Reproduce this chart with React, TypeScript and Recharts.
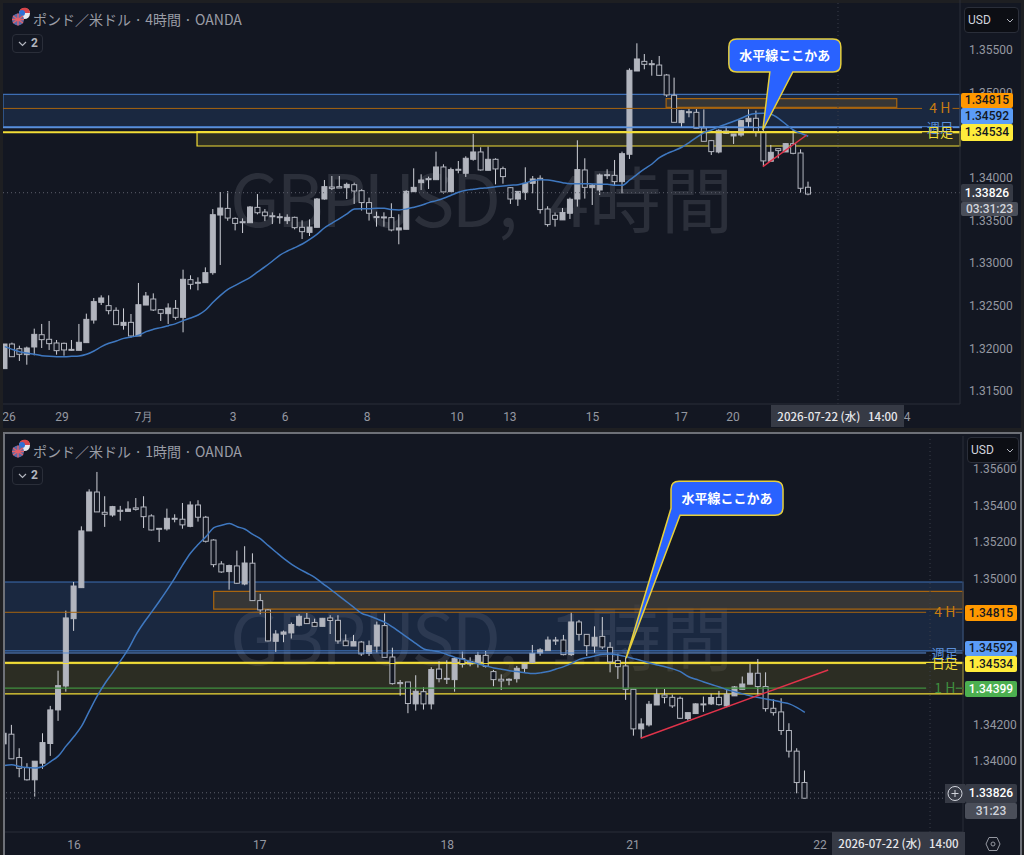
import { Bar, ComposedChart, Line, ReferenceArea, ReferenceDot, ReferenceLine, XAxis, YAxis } from "recharts"

// 4 hour candles, left to right
const h4Open = [1.31762,1.32051,1.31996,1.31926,1.32016,1.32160,1.32106,1.32063,1.32059,1.31988,1.31977,1.32067,1.32332,1.32540,1.32501,1.32446,1.32270,1.32305,1.32145,1.32508,1.32579,1.32454,1.32407,1.32469,1.32364,1.32806,1.32775,1.32771,1.32888,1.33564,1.33642,1.33525,1.33486,1.33474,1.33654,1.33599,1.33556,1.33545,1.33498,1.33537,1.33420,1.33361,1.33420,1.33752,1.33893,1.33897,1.33885,1.33920,1.33850,1.33710,1.33546,1.33542,1.33534,1.33389,1.33397,1.33838,1.33944,1.33991,1.33979,1.34128,1.33838,1.34101,1.34054,1.34218,1.34304,1.34089,1.34218,1.34108,1.33885,1.33752,1.33827,1.33936,1.33995,1.33635,1.33561,1.33507,1.33585,1.33752,1.34093,1.33885,1.33858,1.34038,1.34030,1.33956,1.34277,1.35254,1.35367,1.35340,1.35324,1.35207,1.34969,1.34648,1.34777,1.34769,1.34586,1.34437,1.34304,1.34523,1.34492,1.34503,1.34660,1.34699,1.34543,1.34195,1.34343,1.34304,1.34402,1.34292,1.33890]
const h4High = [1.32051,1.32067,1.32031,1.32020,1.32231,1.32286,1.32321,1.32098,1.32067,1.32098,1.32286,1.32407,1.32591,1.32622,1.32622,1.32481,1.32469,1.32403,1.32767,1.32661,1.32645,1.32454,1.32528,1.32567,1.32923,1.32857,1.32833,1.32950,1.33634,1.33834,1.33845,1.33537,1.33525,1.33670,1.33810,1.33634,1.33595,1.33584,1.33572,1.33545,1.33502,1.33513,1.33764,1.33975,1.34022,1.34022,1.33944,1.33944,1.33866,1.33768,1.33604,1.33596,1.33702,1.33573,1.33854,1.34112,1.34042,1.34015,1.34308,1.34159,1.34120,1.34198,1.34253,1.34515,1.34359,1.34366,1.34230,1.34132,1.33889,1.33842,1.34124,1.34022,1.34030,1.33667,1.33593,1.33647,1.33768,1.34441,1.34230,1.33929,1.34050,1.34101,1.34210,1.34308,1.35285,1.35579,1.35453,1.35383,1.35430,1.35219,1.35176,1.34797,1.34812,1.34808,1.34804,1.34445,1.34570,1.34601,1.34515,1.34679,1.34804,1.34789,1.34570,1.34386,1.34343,1.34406,1.34562,1.34335,1.33956]
const h4Low = [1.31762,1.31902,1.31852,1.31808,1.31918,1.32004,1.31981,1.31926,1.31914,1.31969,1.31977,1.32067,1.32290,1.32508,1.32399,1.32278,1.32219,1.32125,1.32145,1.32508,1.32438,1.32321,1.32286,1.32336,1.32188,1.32692,1.32681,1.32771,1.32864,1.32978,1.33497,1.33384,1.33353,1.33474,1.33572,1.33493,1.33458,1.33462,1.33458,1.33396,1.33283,1.33318,1.33420,1.33744,1.33857,1.33881,1.33752,1.33694,1.33616,1.33499,1.33428,1.33428,1.33373,1.33221,1.33397,1.33838,1.33858,1.33870,1.33979,1.33815,1.33838,1.34054,1.34011,1.34202,1.34085,1.34089,1.33924,1.33932,1.33694,1.33671,1.33741,1.33819,1.33581,1.33428,1.33428,1.33507,1.33518,1.33663,1.33757,1.33682,1.33799,1.33987,1.33909,1.33819,1.34222,1.35254,1.35274,1.35199,1.35199,1.34949,1.34652,1.34601,1.34711,1.34582,1.34429,1.34269,1.34288,1.34515,1.34398,1.34484,1.34589,1.34484,1.34140,1.34195,1.34230,1.34304,1.34277,1.33827,1.33796]
const h4Close = [1.32051,1.31902,1.31930,1.32004,1.32164,1.32102,1.32055,1.31973,1.31981,1.31977,1.32071,1.32340,1.32548,1.32591,1.32442,1.32278,1.32305,1.32145,1.32512,1.32614,1.32450,1.32411,1.32473,1.32364,1.32810,1.32751,1.32763,1.32888,1.33568,1.33646,1.33529,1.33466,1.33474,1.33658,1.33591,1.33556,1.33548,1.33533,1.33537,1.33416,1.33369,1.33423,1.33752,1.33897,1.33877,1.33881,1.33924,1.33846,1.33710,1.33585,1.33534,1.33530,1.33389,1.33413,1.33842,1.33889,1.33975,1.33979,1.34128,1.33835,1.34097,1.34089,1.34230,1.34304,1.34093,1.34218,1.34105,1.34015,1.33752,1.33842,1.33936,1.33987,1.33628,1.33452,1.33514,1.33593,1.33749,1.34097,1.33889,1.33913,1.34034,1.34026,1.33956,1.34284,1.35262,1.35395,1.35332,1.35328,1.35203,1.34973,1.34652,1.34789,1.34765,1.34582,1.34429,1.34308,1.34558,1.34550,1.34515,1.34672,1.34699,1.34543,1.34199,1.34300,1.34320,1.34402,1.34288,1.33878,1.33810]
const h4Ma = [1.32020,1.31988,1.31961,1.31945,1.31930,1.31914,1.31906,1.31902,1.31902,1.31906,1.31910,1.31930,1.31969,1.32020,1.32059,1.32086,1.32117,1.32133,1.32153,1.32196,1.32223,1.32243,1.32266,1.32290,1.32325,1.32356,1.32391,1.32450,1.32540,1.32622,1.32692,1.32739,1.32786,1.32833,1.32896,1.32958,1.33025,1.33095,1.33142,1.33181,1.33224,1.33279,1.33341,1.33415,1.33470,1.33521,1.33577,1.33635,1.33639,1.33639,1.33643,1.33643,1.33628,1.33624,1.33635,1.33655,1.33678,1.33710,1.33733,1.33761,1.33796,1.33831,1.33854,1.33866,1.33878,1.33885,1.33897,1.33905,1.33913,1.33920,1.33940,1.33968,1.33979,1.33975,1.33960,1.33944,1.33932,1.33932,1.33932,1.33929,1.33925,1.33925,1.33913,1.33913,1.33975,1.34042,1.34105,1.34163,1.34237,1.34284,1.34320,1.34359,1.34414,1.34476,1.34531,1.34562,1.34601,1.34632,1.34664,1.34699,1.34738,1.34754,1.34758,1.34746,1.34699,1.34629,1.34562,1.34523,1.34488]

// 1 hour candles, left to right
const h1Open = [1.34094,1.34147,1.34019,1.33964,1.33897,1.33988,1.34096,1.34280,1.34411,1.34780,1.34950,1.35261,1.35474,1.35363,1.35348,1.35374,1.35368,1.35387,1.35392,1.35343,1.35275,1.35272,1.35330,1.35325,1.35286,1.35403,1.35336,1.35211,1.35080,1.35038,1.35069,1.34970,1.35084,1.34879,1.34828,1.34656,1.34695,1.34702,1.34744,1.34782,1.34759,1.34738,1.34784,1.34771,1.34658,1.34630,1.34652,1.34590,1.34630,1.34742,1.34570,1.34430,1.34433,1.34313,1.34380,1.34313,1.34504,1.34453,1.34446,1.34561,1.34532,1.34535,1.34579,1.34490,1.34448,1.34448,1.34451,1.34508,1.34539,1.34592,1.34605,1.34663,1.34663,1.34583,1.34762,1.34694,1.34630,1.34683,1.34623,1.34550,1.34521,1.34393,1.34176,1.34198,1.34307,1.34362,1.34349,1.34344,1.34233,1.34260,1.34313,1.34313,1.34349,1.34302,1.34357,1.34393,1.34421,1.34481,1.34408,1.34289,1.34269,1.34167,1.34054,1.33882]
const h1High = [1.34152,1.34198,1.34070,1.33988,1.33999,1.34152,1.34302,1.34495,1.34824,1.34981,1.35286,1.35489,1.35584,1.35451,1.35398,1.35398,1.35423,1.35441,1.35451,1.35352,1.35275,1.35383,1.35352,1.35414,1.35423,1.35429,1.35343,1.35215,1.35095,1.35076,1.35153,1.35177,1.35138,1.34916,1.34832,1.34717,1.34715,1.34759,1.34804,1.34811,1.34780,1.34784,1.34799,1.34799,1.34694,1.34691,1.34658,1.34660,1.34764,1.34809,1.34621,1.34444,1.34433,1.34470,1.34404,1.34514,1.34546,1.34552,1.34567,1.34599,1.34568,1.34598,1.34603,1.34499,1.34475,1.34453,1.34521,1.34539,1.34636,1.34618,1.34682,1.34680,1.34691,1.34815,1.34773,1.34694,1.34738,1.34789,1.34651,1.34588,1.34568,1.34393,1.34234,1.34329,1.34399,1.34395,1.34364,1.34353,1.34265,1.34316,1.34353,1.34368,1.34384,1.34390,1.34411,1.34463,1.34532,1.34559,1.34486,1.34338,1.34344,1.34207,1.34070,1.33948]
const h1Low = [1.34094,1.34012,1.33911,1.33893,1.33805,1.33957,1.34028,1.34220,1.34380,1.34713,1.34950,1.35261,1.35365,1.35283,1.35339,1.35317,1.35368,1.35372,1.35277,1.35263,1.35200,1.35263,1.35308,1.35273,1.35281,1.35312,1.35197,1.35062,1.35031,1.34939,1.34970,1.34963,1.34877,1.34804,1.34656,1.34598,1.34651,1.34671,1.34738,1.34753,1.34735,1.34738,1.34696,1.34643,1.34632,1.34630,1.34576,1.34576,1.34594,1.34568,1.34419,1.34358,1.34262,1.34276,1.34282,1.34283,1.34431,1.34422,1.34380,1.34512,1.34519,1.34512,1.34512,1.34410,1.34389,1.34415,1.34430,1.34486,1.34532,1.34577,1.34605,1.34636,1.34579,1.34576,1.34660,1.34576,1.34592,1.34614,1.34486,1.34450,1.34335,1.34139,1.34125,1.34189,1.34307,1.34316,1.34291,1.34231,1.34222,1.34258,1.34269,1.34307,1.34304,1.34295,1.34357,1.34393,1.34421,1.34364,1.34271,1.34249,1.34143,1.34019,1.33823,1.33796]
const h1Close = [1.34152,1.34012,1.33960,1.33897,1.33999,1.34101,1.34280,1.34413,1.34784,1.34959,1.35261,1.35474,1.35365,1.35352,1.35394,1.35368,1.35381,1.35379,1.35339,1.35266,1.35272,1.35330,1.35325,1.35294,1.35403,1.35336,1.35204,1.35076,1.35036,1.35071,1.34974,1.35085,1.34879,1.34828,1.34658,1.34696,1.34707,1.34748,1.34793,1.34753,1.34738,1.34782,1.34770,1.34658,1.34632,1.34654,1.34587,1.34632,1.34745,1.34568,1.34424,1.34424,1.34315,1.34382,1.34313,1.34501,1.34451,1.34450,1.34561,1.34530,1.34545,1.34579,1.34519,1.34446,1.34439,1.34444,1.34508,1.34537,1.34590,1.34609,1.34663,1.34660,1.34583,1.34762,1.34694,1.34632,1.34678,1.34625,1.34543,1.34517,1.34393,1.34176,1.34203,1.34311,1.34364,1.34349,1.34302,1.34234,1.34265,1.34313,1.34309,1.34348,1.34309,1.34366,1.34406,1.34422,1.34481,1.34408,1.34287,1.34265,1.34167,1.34054,1.33882,1.33796]
const h1Ma = [1.33975,1.33980,1.33970,1.33964,1.33962,1.33970,1.33997,1.34028,1.34083,1.34134,1.34192,1.34276,1.34357,1.34426,1.34486,1.34550,1.34614,1.34694,1.34759,1.34817,1.34877,1.34939,1.35005,1.35076,1.35140,1.35188,1.35231,1.35279,1.35292,1.35301,1.35284,1.35270,1.35242,1.35217,1.35180,1.35144,1.35109,1.35078,1.35052,1.35029,1.35005,1.34972,1.34941,1.34908,1.34875,1.34842,1.34809,1.34795,1.34778,1.34760,1.34733,1.34703,1.34674,1.34643,1.34614,1.34605,1.34598,1.34583,1.34568,1.34557,1.34545,1.34532,1.34521,1.34510,1.34503,1.34495,1.34490,1.34484,1.34479,1.34483,1.34490,1.34504,1.34517,1.34535,1.34557,1.34567,1.34576,1.34585,1.34587,1.34581,1.34572,1.34561,1.34550,1.34537,1.34526,1.34517,1.34505,1.34490,1.34463,1.34448,1.34433,1.34419,1.34406,1.34391,1.34380,1.34368,1.34357,1.34348,1.34340,1.34333,1.34322,1.34313,1.34293,1.34267]

// axes (ticks hidden behind the price badges are left out)
const h4PriceTicks = [1.315, 1.32, 1.325, 1.33, 1.335, 1.34, 1.35, 1.355]
const h1PriceTicks = [1.34, 1.342, 1.35, 1.352, 1.354, 1.356]
const h4TimeTicks = [0.58, 7.7, 18.7, 30.7, 37.7, 48.7, 60.8, 67.9, 79, 90.9, 97.9, 121.3]
const h4TimeLabels = ["26", "29", "7月", "3", "6", "8", "10", "13", "15", "17", "20", "4"]
const h1TimeTicks = [9, 32.9, 57, 80.9, 104.95]
const h1TimeLabels = ["16", "17", "18", "21", "22"]

// levels
const lastPrice = 1.33826
const weeklyLevel = 1.34592
const dailyLevel = 1.34534
const h4Level = 1.34815
const h1Level = 1.34399

const BG = "#131722"
const CANDLE = "#b2b5be"
const WICK = "#cfd1d8"
const BLUE = "#3d6eb4"
const LIGHT_BLUE = "#5b8fd8"
const ORANGE = "#a8650f"
const YELLOW = "#f2dd37"
const GREEN = "#3f8f3f"
const JP = '"Noto Sans CJK JP", sans-serif'

type Row = { idx: number; range: number[]; open: number; close: number; ma: number }

function toRows(o: number[], h: number[], l: number[], c: number[], ma: number[]): Row[] {
  return o.map((v, i) => ({ idx: i, range: [l[i], h[i]], open: v, close: c[i], ma: ma[i] }))
}

const h4Rows = toRows(h4Open, h4High, h4Low, h4Close, h4Ma)
const h1Rows = toRows(h1Open, h1High, h1Low, h1Close, h1Ma)

function Candle(props: any) {
  const { x, y, width, height, payload } = props
  const [low, high] = payload.range
  const span = high - low || 1
  const up = payload.close >= payload.open
  const top = up ? payload.close : payload.open
  const bottom = up ? payload.open : payload.close
  const bodyTop = y + ((high - top) / span) * height
  const bodyBottom = y + ((high - bottom) / span) * height
  const cx = x + width / 2
  return (
    <g>
      <line x1={cx} x2={cx} y1={y} y2={y + height} stroke={WICK} strokeWidth={1} />
      <rect
        x={cx - 2.5}
        y={bodyTop}
        width={5}
        height={Math.max(bodyBottom - bodyTop, 1)}
        fill={up ? CANDLE : BG}
        stroke={CANDLE}
        strokeWidth={1}
      />
    </g>
  )
}

function CalloutTop({ cx, cy }: any) {
  return (
    <g transform={`translate(${cx},${cy})`}>
      <path
        d="M-26,-91 H70 Q78,-91 78,-83 V-66 Q78,-58 70,-58 H30 L0,0 L7,-58 H-26 Q-34,-58 -34,-66 V-83 Q-34,-91 -26,-91 Z"
        fill="#2962ff"
        stroke="#e6cf3c"
        strokeWidth={1.5}
      />
      <text x={22} y={-70} textAnchor="middle" fill="#fff" fontSize={13} fontWeight={700} fontFamily={JP}>
        水平線ここかあ
      </text>
    </g>
  )
}

function CalloutBottom({ cx, cy }: any) {
  return (
    <g transform={`translate(${cx},${cy})`}>
      <path
        d="M53,-177 H149 Q157,-177 157,-169 V-151 Q157,-143 149,-143 H54 L0,0 L45,-150 V-169 Q45,-177 53,-177 Z"
        fill="#2962ff"
        stroke="#e6cf3c"
        strokeWidth={1.5}
      />
      <text x={101} y={-155} textAnchor="middle" fill="#fff" fontSize={13} fontWeight={700} fontFamily={JP}>
        水平線ここかあ
      </text>
    </g>
  )
}

function Watermark({ name, tf, top }: { name: string; tf: string; top: number }) {
  return (
    <div
      style={{
        position: "absolute",
        left: 230,
        top,
        fontFamily: JP,
        fontSize: 72,
        lineHeight: "90px",
        whiteSpace: "pre",
        color: "#2b2f3a",
      }}
    >
      <span style={{ letterSpacing: -3 }}>{name}</span>
      <span style={{ marginLeft: 34 }}>{tf}</span>
    </div>
  )
}

function Badge(p: { left: number; top: number; width: number; height: number; bg: string; color: string; text: string }) {
  return (
    <div
      style={{
        position: "absolute",
        left: p.left,
        top: p.top,
        width: p.width,
        height: p.height,
        lineHeight: `${p.height}px`,
        background: p.bg,
        color: p.color,
        fontFamily: "Roboto, sans-serif",
        fontSize: 12,
        fontWeight: 500,
        textAlign: "center",
        borderRadius: 2,
      }}
    >
      {p.text}
    </div>
  )
}

function Flags({ top }: { top: number }) {
  return (
    <svg style={{ position: "absolute", left: 11, top }} width={20} height={20}>
      <circle cx={13.5} cy={6.5} r={5.5} fill="#e8e8ee" />
      <path d="M8.5,4 A5.5,5.5 0 0 1 19,6 L13,6 Z" fill="#d8444a" />
      <circle cx={11} cy={6} r={3} fill="#2f6fd6" />
      <circle cx={7} cy={12.5} r={6} fill="#5a6aa8" />
      <path d="M2,9 L12,16 M2,16 L12,9 M7,6.5 V18.5 M1,12.5 H13" stroke="#e4606a" strokeWidth={1.4} />
    </svg>
  )
}

function Header({ title, top }: { title: string; top: number }) {
  return (
    <>
      <Flags top={top + 7} />
      <div
        style={{
          position: "absolute",
          left: 33,
          top: top + 8,
          fontFamily: JP,
          fontSize: 14,
          lineHeight: "22px",
          color: "#9a9da6",
          whiteSpace: "nowrap",
        }}
      >
        {title}
      </div>
      <div
        style={{
          position: "absolute",
          left: 12,
          top: top + 34,
          width: 28,
          height: 17,
          border: "1px solid #2a2e39",
          borderRadius: 4,
          color: "#b2b5be",
          fontFamily: "Roboto, sans-serif",
          fontSize: 12,
          fontWeight: 700,
          lineHeight: "17px",
          textAlign: "right",
          paddingRight: 1,
          boxSizing: "content-box",
        }}
      >
        <svg style={{ position: "absolute", left: 5, top: 6 }} width={9} height={6}>
          <path d="M1,1 L4.5,4.5 L8,1" fill="none" stroke="#b2b5be" strokeWidth={1.2} />
        </svg>
        <span style={{ marginRight: 3 }}>2</span>
      </div>
    </>
  )
}

function Currency({ left, top, width }: { left: number; top: number; width: number }) {
  return (
    <div
      style={{
        position: "absolute",
        left,
        top,
        width,
        height: 24,
        background: "#0c0e14",
        border: "1px solid #2a2e39",
        borderRadius: 4,
        color: "#d1d4dc",
        fontFamily: "Roboto, sans-serif",
        fontSize: 12,
        lineHeight: "24px",
        paddingLeft: 3,
        boxSizing: "content-box",
      }}
    >
      USD
      <svg style={{ position: "absolute", right: 4, top: 10 }} width={8} height={5}>
        <path d="M1,1 L4,4 L7,1" fill="none" stroke="#b2b5be" strokeWidth={1} />
      </svg>
    </div>
  )
}

function DateLabel({ left, top, width, height }: { left: number; top: number; width: number; height: number }) {
  return (
    <div
      style={{
        position: "absolute",
        left,
        top,
        width,
        height,
        background: "#363a45",
        color: "#e6e7ea",
        fontFamily: JP,
        fontSize: 11.5,
        fontWeight: 500,
        lineHeight: `${height}px`,
        textAlign: "center",
        whiteSpace: "pre",
      }}
    >
      2026-07-22 (水)   14:00
    </div>
  )
}

function tagProps(value: string, fill: string, size = 13) {
  return { value, position: "center" as const, fill, fontSize: size, fontFamily: JP }
}

function H4Chart() {
  const left = -0.23
  const right = 128.4
  const tagX = 125.7
  const gapFrom = 123.3
  const gapTo = 127.4
  return (
    <ComposedChart width={1018} height={428} data={h4Rows} margin={{ top: 0, right: 0, bottom: 0, left: 0 }}>
      <XAxis
        dataKey="idx"
        type="number"
        domain={[left, right]}
        allowDataOverflow
        ticks={h4TimeTicks}
        tickFormatter={(v: number) => h4TimeLabels[h4TimeTicks.indexOf(v)]}
        height={24}
        tickLine={false}
        axisLine={{ stroke: "#2a2e39" }}
        tick={{ fill: "#9598a1", fontSize: 12, fontFamily: "Roboto, sans-serif" }}
        interval={0}
      />
      <YAxis
        orientation="right"
        width={61}
        domain={[1.31347, 1.36087]}
        allowDataOverflow
        ticks={h4PriceTicks}
        tickFormatter={(v: number) => v.toFixed(5)}
        tickLine={false}
        axisLine={{ stroke: "#2a2e39" }}
        tickMargin={3}
        tick={{ fill: "#9598a1", fontSize: 12, fontFamily: "Roboto, sans-serif" }}
      />
      <ReferenceArea x1={left} x2={right} y1={1.34601} y2={1.3498} fill="#2d5590" fillOpacity={0.28} stroke={BLUE} strokeWidth={1.2} ifOverflow="visible" />
      <ReferenceArea x1={88.9} x2={119.9} y1={1.34828} y2={1.3493} fill="#4a4030" fillOpacity={0.6} stroke={ORANGE} strokeWidth={1.2} />
      <ReferenceArea x1={25.85} x2={right} y1={1.34374} y2={1.34543} fill="#5c5526" fillOpacity={0.35} stroke={YELLOW} strokeWidth={1.2} ifOverflow="visible" />
      <ReferenceLine segment={[{ x: left, y: h4Level }, { x: gapFrom, y: h4Level }]} stroke={ORANGE} />
      <ReferenceLine segment={[{ x: gapTo, y: h4Level }, { x: right, y: h4Level }]} stroke={ORANGE} />
      <ReferenceLine segment={[{ x: left, y: weeklyLevel }, { x: gapFrom, y: weeklyLevel }]} stroke={LIGHT_BLUE} strokeWidth={1.5} />
      <ReferenceLine segment={[{ x: gapTo, y: weeklyLevel }, { x: right, y: weeklyLevel }]} stroke={LIGHT_BLUE} strokeWidth={1.5} />
      <ReferenceLine segment={[{ x: left, y: dailyLevel }, { x: gapFrom, y: dailyLevel }]} stroke={YELLOW} strokeWidth={2} />
      <ReferenceLine segment={[{ x: gapTo, y: dailyLevel }, { x: right, y: dailyLevel }]} stroke={YELLOW} strokeWidth={2} />
      <ReferenceLine y={lastPrice} stroke="#5d606b" strokeDasharray="1 3" />
      <ReferenceLine x={112} stroke="#3a3e4a" strokeDasharray="1 3" />
      <Bar dataKey="range" barSize={5} shape={<Candle />} isAnimationActive={false} />
      <Line dataKey="ma" type="monotone" stroke="#3f78c0" strokeWidth={1.5} dot={false} isAnimationActive={false} />
      <ReferenceLine segment={[{ x: 101.9, y: 1.34132 }, { x: 107.8, y: 1.34503 }]} stroke="#e0334a" strokeWidth={1.5} />
      <ReferenceDot x={tagX} y={h4Level} r={0} label={tagProps("4 H", "#c77c12", 14)} />
      <ReferenceDot x={tagX} y={weeklyLevel} r={0} label={tagProps("週足", LIGHT_BLUE)} />
      <ReferenceDot x={tagX} y={dailyLevel} r={0} label={tagProps("日足", YELLOW)} />
      <ReferenceDot x={101.9} y={1.34562} shape={<CalloutTop />} ifOverflow="visible" />
    </ComposedChart>
  )
}

function H1Chart() {
  const left = -0.13
  const right = 123.34
  const tagX = 121
  const gapFrom = 118.6
  const gapTo = 122.4
  return (
    <ComposedChart width={1018} height={419} data={h1Rows} margin={{ top: 0, right: 0, bottom: 0, left: 0 }}>
      <XAxis
        dataKey="idx"
        type="number"
        domain={[left, right]}
        allowDataOverflow
        ticks={h1TimeTicks}
        tickFormatter={(v: number) => h1TimeLabels[h1TimeTicks.indexOf(v)]}
        height={23}
        tickLine={false}
        axisLine={{ stroke: "#2a2e39" }}
        tick={{ fill: "#9598a1", fontSize: 12, fontFamily: "Roboto, sans-serif" }}
        interval={0}
      />
      <YAxis
        orientation="right"
        width={58}
        domain={[1.33611, 1.35781]}
        allowDataOverflow
        ticks={h1PriceTicks}
        tickFormatter={(v: number) => v.toFixed(5)}
        tickLine={false}
        axisLine={{ stroke: "#2a2e39" }}
        tickMargin={4}
        tick={{ fill: "#9598a1", fontSize: 12, fontFamily: "Roboto, sans-serif" }}
      />
      <ReferenceArea x1={left} x2={right} y1={1.34603} y2={1.34981} fill="#2d5590" fillOpacity={0.28} stroke={BLUE} strokeWidth={1.2} ifOverflow="visible" />
      <ReferenceArea x1={26.97} x2={right} y1={1.34832} y2={1.3493} fill="#4a4030" fillOpacity={0.6} stroke={ORANGE} strokeWidth={1.2} ifOverflow="visible" />
      <ReferenceArea x1={left} x2={right} y1={1.34368} y2={1.34541} fill="#5c5526" fillOpacity={0.35} stroke={YELLOW} strokeWidth={1.2} ifOverflow="visible" />
      <ReferenceLine segment={[{ x: left, y: h4Level }, { x: gapFrom, y: h4Level }]} stroke={ORANGE} />
      <ReferenceLine segment={[{ x: gapTo, y: h4Level }, { x: right, y: h4Level }]} stroke={ORANGE} />
      <ReferenceLine segment={[{ x: left, y: weeklyLevel }, { x: gapFrom, y: weeklyLevel }]} stroke={LIGHT_BLUE} />
      <ReferenceLine segment={[{ x: gapTo, y: weeklyLevel }, { x: right, y: weeklyLevel }]} stroke={LIGHT_BLUE} />
      <ReferenceLine segment={[{ x: left, y: dailyLevel }, { x: gapFrom, y: dailyLevel }]} stroke={YELLOW} />
      <ReferenceLine segment={[{ x: gapTo, y: dailyLevel }, { x: right, y: dailyLevel }]} stroke={YELLOW} />
      <ReferenceLine segment={[{ x: left, y: h1Level }, { x: gapFrom, y: h1Level }]} stroke={GREEN} strokeWidth={1.2} />
      <ReferenceLine segment={[{ x: gapTo, y: h1Level }, { x: right, y: h1Level }]} stroke={GREEN} strokeWidth={1.2} />
      <ReferenceLine y={lastPrice} stroke="#5d606b" strokeDasharray="1 3" />
      <ReferenceLine y={1.33796} stroke="#5d606b" strokeDasharray="1 3" />
      <ReferenceLine x={119.1} stroke="#3a3e4a" strokeDasharray="1 3" />
      <Bar dataKey="range" barSize={5} shape={<Candle />} isAnimationActive={false} />
      <Line dataKey="ma" type="monotone" stroke="#3f78c0" strokeWidth={1.5} dot={false} isAnimationActive={false} />
      <ReferenceLine segment={[{ x: 81.9, y: 1.34125 }, { x: 106, y: 1.34499 }]} stroke="#e0334a" strokeWidth={1.5} />
      <ReferenceDot x={tagX} y={h4Level} r={0} label={tagProps("4 H", "#c77c12", 14)} />
      <ReferenceDot x={tagX} y={weeklyLevel} r={0} label={tagProps("週足", LIGHT_BLUE)} />
      <ReferenceDot x={tagX} y={dailyLevel} r={0} label={tagProps("日足", YELLOW)} />
      <ReferenceDot x={tagX} y={h1Level} r={0} label={tagProps("1 H", GREEN, 14)} />
      <ReferenceDot x={80} y={1.34563} shape={<CalloutBottom />} ifOverflow="visible" />
    </ComposedChart>
  )
}

export default function App() {
  return (
    <div style={{ position: "absolute", left: 0, top: 0, width: 1024, height: 855, background: "#1e1f22", overflow: "hidden" }}>
      {/* 4 hour panel */}
      <div style={{ position: "absolute", left: 3, top: 3, width: 1018, height: 425, background: BG }} />
      <Watermark name="GBPUSD," tf="4時間" top={151} />
      <div style={{ position: "absolute", left: 3, top: 0 }}>
        <H4Chart />
      </div>
      <Header title="ポンド／米ドル · 4時間 · OANDA" top={0} />
      <Currency left={964} top={7} width={50} />
      <Badge left={961} top={93} width={52} height={15} bg="#ff9800" color="#131722" text="1.34815" />
      <Badge left={961} top={108} width={52} height={16} bg="#5b9cf6" color="#131722" text="1.34592" />
      <Badge left={961} top={124} width={52} height={17} bg="#ffeb3b" color="#131722" text="1.34534" />
      <Badge left={961} top={184} width={52} height={18} bg="#363a45" color="#ffffff" text="1.33826" />
      <Badge left={961} top={202} width={57} height={14} bg="#4a4e59" color="#d1d4dc" text="03:31:23" />
      <DateLabel left={771} top={405} width={133} height={22} />

      {/* 1 hour panel */}
      <div style={{ position: "absolute", left: 3, top: 432, width: 1018, height: 423, background: BG }} />
      <Watermark name="GBPUSD," tf="1時間" top={589} />
      <div style={{ position: "absolute", left: 3, top: 436 }}>
        <H1Chart />
      </div>
      <div style={{ position: "absolute", left: 3, top: 432, width: 1015, height: 423, border: "2px solid #6e7178", borderBottom: "none", pointerEvents: "none", boxSizing: "content-box" }} />
      <Header title="ポンド／米ドル · 1時間 · OANDA" top={432} />
      <Currency left={967} top={437} width={47} />
      <Badge left={965} top={605} width={52} height={16} bg="#ff9800" color="#131722" text="1.34815" />
      <Badge left={965} top={641} width={52} height={15} bg="#5b9cf6" color="#131722" text="1.34592" />
      <Badge left={965} top={656} width={52} height={16} bg="#ffeb3b" color="#131722" text="1.34534" />
      <Badge left={965} top={681} width={52} height={16} bg="#4caf50" color="#ffffff" text="1.34399" />
      <Badge left={965} top={784} width={52} height={19} bg="#363a45" color="#ffffff" text="1.33826" />
      <Badge left={965} top={803} width={52} height={16} bg="#4a4e59" color="#d1d4dc" text="31:23" />
      <svg style={{ position: "absolute", left: 945, top: 784 }} width={20} height={19}>
        <rect width={20} height={19} fill="#363a45" />
        <circle cx={10} cy={9.5} r={7} fill="none" stroke="#d1d4dc" />
        <path d="M10,6 V13 M6.5,9.5 H13.5" stroke="#d1d4dc" />
      </svg>
      <DateLabel left={832} top={832} width={133} height={23} />
      <svg style={{ position: "absolute", left: 985, top: 836 }} width={16} height={16}>
        <path d="M4,1.5 H12 L15,8 L12,14.5 H4 L1,8 Z" fill="none" stroke="#9598a1" />
        <circle cx={8} cy={8} r={2} fill="none" stroke="#9598a1" />
      </svg>
    </div>
  )
}
